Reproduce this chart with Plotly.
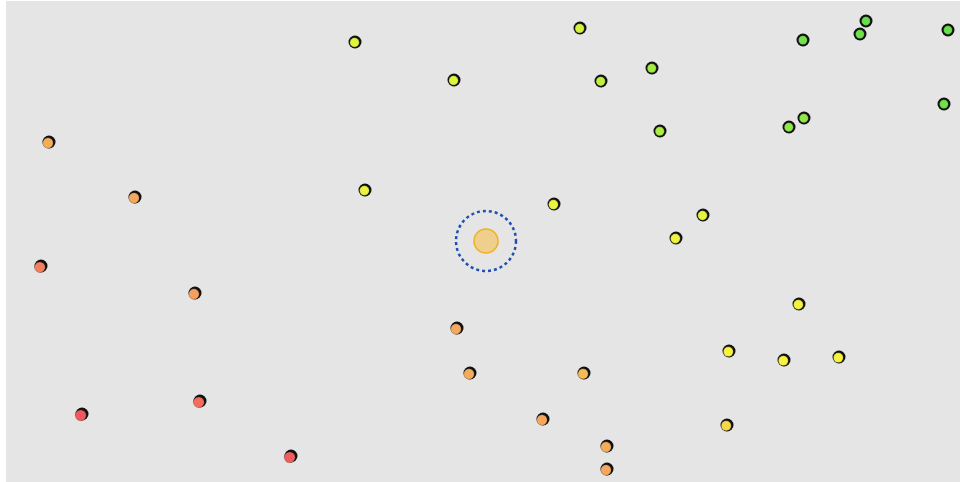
import plotly.graph_objects as go

# positions of the stations (pixel-like units, y grows downward)
xs = [355, 454, 580, 601, 652, 660, 803, 866, 860, 948, 944, 789, 804,
      365, 554, 703, 676, 799, 729, 784, 839, 727,
      49, 135, 41, 195, 457, 470, 584, 543, 607, 607,
      82, 200, 291]
ys = [42, 80, 28, 81, 68, 131, 40, 21, 34, 30, 104, 127, 118,
      190, 204, 215, 238, 304, 351, 360, 357, 425,
      142, 197, 266, 293, 328, 373, 373, 419, 446, 469,
      414, 401, 456]
# score of each station, 0 = red ... 1 = green
score = [0.68, 0.68, 0.72, 0.76, 0.82, 0.8, 0.92, 0.95, 0.93, 0.95, 0.93, 0.86, 0.86,
         0.58, 0.58, 0.64, 0.56, 0.53, 0.5, 0.5, 0.5, 0.42,
         0.28, 0.27, 0.15, 0.24, 0.27, 0.28, 0.33, 0.27, 0.28, 0.27,
         0.04, 0.1, 0.05]

center = (486, 241)

scale = [[0.0, '#f04a5c'], [0.25, '#f5a25e'], [0.5, '#f7f23e'],
         [0.7, '#dcf53c'], [1.0, '#4cdc4c']]

fig = go.Figure()

# dark backdrop disk, shows as a crescent / ring
fig.add_trace(go.Scatter(
    x=xs, y=ys, mode='markers', hoverinfo='skip',
    marker=dict(size=13, color='#111111', opacity=1, line=dict(width=0))))

off = [(1 - s) * 1.4 for s in score]
fig.add_trace(go.Scatter(
    x=[x - o for x, o in zip(xs, off)], y=[y + o for y, o in zip(ys, off)],
    mode='markers',
    marker=dict(size=[11 - 2.5 * s for s in score], color=score, colorscale=scale,
                cmin=0, cmax=1, opacity=1,
                line=dict(width=0.5, color='rgba(60,60,60,0.5)'))))

# center point
fig.add_trace(go.Scatter(
    x=[center[0]], y=[center[1]], mode='markers',
    marker=dict(size=24, color='rgba(240,200,110,0.75)', opacity=1,
                line=dict(width=1.5, color='#f0b020'))))

fig.add_shape(type='circle', x0=center[0] - 30, x1=center[0] + 30,
              y0=center[1] - 30, y1=center[1] + 30,
              line=dict(color='#1f4fb0', width=2.5, dash='dot'))

fig.update_layout(
    width=960, height=482,
    margin=dict(l=6, r=0, t=1, b=0),
    paper_bgcolor='white', plot_bgcolor='#e5e5e5',
    showlegend=False,
    xaxis=dict(range=[6, 960], visible=False, fixedrange=True),
    yaxis=dict(range=[482, 1], visible=False, fixedrange=True),
)

fig.write_html("out.html", config={'displayModeBar': False},
               post_script="document.body.style.margin='0';")
